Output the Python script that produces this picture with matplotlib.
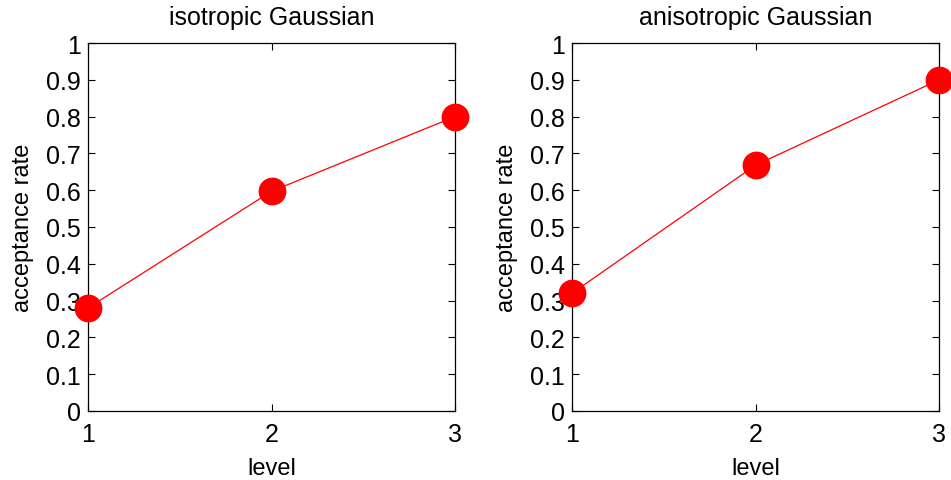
import matplotlib
matplotlib.use("Agg")
from matplotlib import pyplot as plt

plt.rcParams['font.family'] = ['Liberation Sans', 'DejaVu Sans']

levels = [1, 2, 3]
iso_rate = [0.28, 0.597, 0.80]
aniso_rate = [0.32, 0.668, 0.90]
titles = ["isotropic Gaussian", "anisotropic Gaussian"]
yticks = [0, 0.1, 0.2, 0.3, 0.4, 0.5, 0.6, 0.7, 0.8, 0.9, 1]
yticklabels = ["0", "0.1", "0.2", "0.3", "0.4", "0.5", "0.6", "0.7", "0.8", "0.9", "1"]

fig = plt.figure(figsize=(9.51, 4.81), dpi=100)
posiciones = [[0.0925, 0.1435, 0.386, 0.765], [0.6015, 0.1435, 0.386, 0.765]]

for pos, datos, titulo in zip(posiciones, [iso_rate, aniso_rate], titles):
    ax = fig.add_axes(pos)
    ax.plot(levels, datos, color='red', lw=0.9, marker='o', ms=19,
            markerfacecolor='red', markeredgecolor='red', clip_on=False, zorder=3)
    ax.set_xlim(1, 3)
    ax.set_ylim(0, 1)
    ax.set_xticks(levels)
    ax.set_yticks(yticks)
    ax.set_yticklabels(yticklabels)
    ax.tick_params(direction='in', length=5, width=0.8, labelsize=18,
                   top=True, right=True, pad=5)
    ax.tick_params(axis='x', pad=8)
    ax.set_xlabel("level", fontsize=17, labelpad=8)
    ax.set_ylabel("acceptance rate", fontsize=17, labelpad=9)
    ax.set_title(titulo, fontsize=18, pad=14)
    for s in ax.spines.values():
        s.set_linewidth(0.9)

plt.savefig("out.png", dpi=100)
plt.close()
